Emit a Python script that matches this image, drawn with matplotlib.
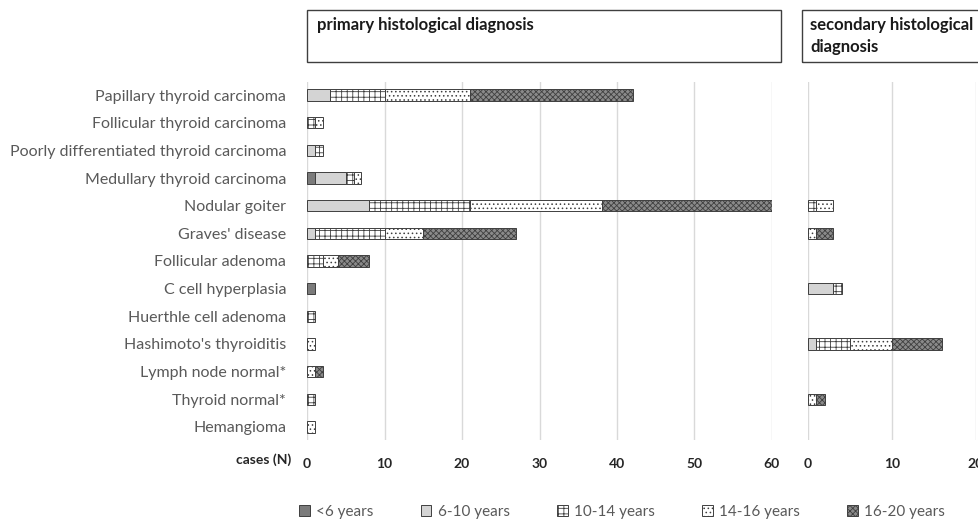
import matplotlib
matplotlib.use('Agg')

import numpy as np
import matplotlib.pyplot as plt
from matplotlib.patches import Rectangle, Patch

# data
diagnoses = ["Papillary thyroid carcinoma", "Follicular thyroid carcinoma",
             "Poorly differentiated thyroid carcinoma", "Medullary thyroid carcinoma",
             "Nodular goiter", "Graves' disease", "Follicular adenoma",
             "C cell hyperplasia", "Huerthle cell adenoma", "Hashimoto's thyroiditis",
             "Lymph node normal*", "Thyroid normal*", "Hemangioma"]
age_groups = ["<6 years", "6-10 years", "10-14 years", "14-16 years", "16-20 years"]

primary_lt6 = [0, 0, 0, 1, 0, 0, 0, 1, 0, 0, 0, 0, 0]
primary_6_10 = [3, 0, 1, 4, 8, 1, 0, 0, 0, 0, 0, 0, 0]
primary_10_14 = [7, 1, 1, 1, 13, 9, 2, 0, 1, 0, 0, 1, 0]
primary_14_16 = [11, 1, 0, 1, 17, 5, 2, 0, 0, 1, 1, 0, 1]
primary_16_20 = [21, 0, 0, 0, 22, 12, 4, 0, 0, 0, 1, 0, 0]

secondary_lt6 = [0, 0, 0, 0, 0, 0, 0, 0, 0, 0, 0, 0, 0]
secondary_6_10 = [0, 0, 0, 0, 0, 0, 0, 3, 0, 1, 0, 0, 0]
secondary_10_14 = [0, 0, 0, 0, 1, 0, 0, 1, 0, 4, 0, 0, 0]
secondary_14_16 = [0, 0, 0, 0, 2, 1, 0, 0, 0, 5, 0, 1, 0]
secondary_16_20 = [0, 0, 0, 0, 0, 2, 0, 0, 0, 6, 0, 1, 0]

primary = [primary_lt6, primary_6_10, primary_10_14, primary_14_16, primary_16_20]
secondary = [secondary_lt6, secondary_6_10, secondary_10_14, secondary_14_16, secondary_16_20]

# styles per age group: facecolor, hatch
styles = [("#7b7b7b", None), ("#d4d4d4", None), ("white", "+++"),
          ("white", "...."), ("#8a8a8a", "xxxxxx")]
edge = "#3f3f3f"
grid_c = "#d9d9d9"
label_c = "#595959"

plt.rcParams['font.family'] = ['Lato', 'DejaVu Sans']
plt.rcParams['hatch.linewidth'] = 0.6

W, H = 979, 522
fig = plt.figure(figsize=(W / 100, H / 100), dpi=100)


def fx(px):
    return px / W


def fy(py):
    return 1 - py / H


def panel(x0, x1, xmax, ticks, data):
    ax = fig.add_axes([fx(x0), fy(440), fx(x1) - fx(x0), fy(82) - fy(440)])
    y = np.arange(len(diagnoses))
    left = np.zeros(len(diagnoses))
    for vals, (fc, hatch) in zip(data, styles):
        vals = np.array(vals, dtype=float)
        keep = vals > 0
        ax.barh(y[keep], vals[keep], left=left[keep], height=0.42, color=fc,
                edgecolor=edge, linewidth=0.7, hatch=hatch)
        left += vals
    ax.set_xlim(0, xmax)
    ax.set_ylim(12.47, -0.47)
    ax.set_xticks(ticks)
    ax.set_xticklabels([str(t) for t in ticks], fontweight='bold', fontsize=10, color="#262626")
    ax.tick_params(axis='x', length=0, pad=13)
    ax.grid(axis='x', color=grid_c, linewidth=1)
    ax.set_axisbelow(True)
    for s in ['top', 'right', 'bottom', 'left']:
        ax.spines[s].set_visible(False)
    return ax


ax1 = panel(307, 772, 60, [0, 10, 20, 30, 40, 50, 60], primary)
ax1.set_yticks(np.arange(len(diagnoses)))
ax1.set_yticklabels(diagnoses, fontsize=11.5, color=label_c)
ax1.tick_params(axis='y', length=0, pad=15)

ax2 = panel(808, 976, 20, [0, 10, 20], secondary)
ax2.set_yticks([])

fig.text(fx(291), fy(460), "cases (N)", ha='right', va='center',
         fontsize=10, fontweight='bold', color="#262626")

# header boxes
fig.patches.append(Rectangle((fx(307), fy(62)), fx(781) - fx(307), fy(10) - fy(62),
                             transform=fig.transFigure, fill=False, edgecolor=edge, linewidth=1))
fig.patches.append(Rectangle((fx(802), fy(62)), fx(990) - fx(802), fy(10) - fy(62),
                             transform=fig.transFigure, fill=False, edgecolor=edge, linewidth=1,
                             clip_on=False))
fig.text(fx(317), fy(25), "primary histological diagnosis", ha='left', va='center',
         fontsize=12, fontweight='bold', color="#1a1a1a")
fig.text(fx(810), fy(25), "secondary histological", ha='left', va='center',
         fontsize=12, fontweight='bold', color="#1a1a1a")
fig.text(fx(810), fy(47), "diagnosis", ha='left', va='center',
         fontsize=12, fontweight='bold', color="#1a1a1a")

handles = [Patch(facecolor=fc, edgecolor=edge, hatch=h, linewidth=0.7, label=lab)
           for (fc, h), lab in zip(styles, age_groups)]
fig.legend(handles=handles, loc='center', bbox_to_anchor=(fx(622), fy(512)), ncol=5,
           frameon=False, fontsize=11, labelcolor=label_c, handlelength=0.7,
           handleheight=0.7, handletextpad=0.4, columnspacing=3.1)

fig.savefig("out.png", dpi=100)
